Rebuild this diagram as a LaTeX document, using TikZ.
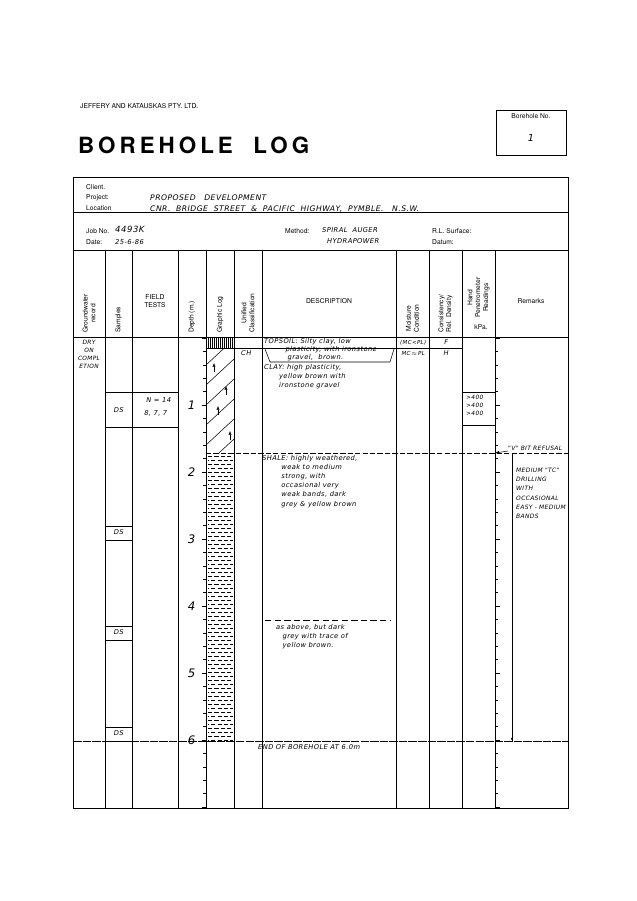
\documentclass[tikz,border=0pt]{standalone}
\usepackage{fontspec}
\setmainfont{TeX Gyre Heros}
\newfontfamily\handfont[LetterSpace=6]{DejaVu Sans}
\usetikzlibrary{arrows.meta}
\newcommand{\hw}{\handfont\itshape\fontsize{6.3}{8.6}\selectfont}
\newcommand{\frm}{\fontsize{6.3}{7.4}\selectfont}
\begin{document}
\begin{tikzpicture}[x=0.033cm,y=-0.033cm,
    frame/.style={line width=0.8pt},
    rule/.style={line width=0.55pt},
    formtext/.style={font=\frm, inner sep=0pt},
    colhead/.style={font=\frm, inner sep=0pt, align=center},
    rothead/.style={font=\frm, inner sep=0pt, align=center, rotate=90, anchor=west},
    hand/.style={font=\hw, inner sep=0pt, align=left, anchor=north west},
    tick/.style={line width=0.5pt}
    ]
\useasboundingbox (0,0) rectangle (637,901);
\fill[white] (0,0) rectangle (637,901);

% title block
\node[formtext, anchor=west] (firm) at (80,106) {JEFFERY AND KATAUSKAS PTY. LTD.};
\node[inner sep=0pt, anchor=west, font=\bfseries\fontsize{21}{21}\selectfont] (title) at (78,145) {\addfontfeature{LetterSpace=18}BOREHOLE\ \ LOG};
\draw[rule] (496,110) rectangle (566,155);
\node[formtext] (bhlabel) at (531,116) {Borehole No.};
\node[font=\hw\fontsize{9}{9}\selectfont] (bhno) at (531,138) {1};

% main frame and header rows
\draw[frame] (73,177) rectangle (568,808);
\draw[rule] (73,212) -- (568,212);
\draw[rule] (73,250) -- (568,250);
\draw[rule] (73,337) -- (568,337);

\node[formtext, anchor=west] (client) at (86,187) {Client.};
\node[formtext, anchor=west] (project) at (86,198) {Project:};
\node[formtext, anchor=west] (location) at (86,208) {Location};
\node[hand, anchor=west, font=\hw\fontsize{7.2}{7.2}\selectfont] (projval) at (150,198) {PROPOSED\ \ \ DEVELOPMENT};
\node[hand, anchor=west, font=\hw\fontsize{7.2}{7.2}\selectfont] (locval) at (150,209) {CNR.\ \ BRIDGE\ \ STREET\ \ \&\ \ PACIFIC\ \ HIGHWAY,\ \ PYMBLE.\ \ \ N.S.W.};
\node[formtext, anchor=west] (jobno) at (86,231) {Job No.};
\node[formtext, anchor=west] (date) at (86,242) {Date:};
\node[hand, anchor=west, font=\hw\fontsize{8}{8}\selectfont] (jobval) at (115,229) {4493K};
\node[hand, anchor=west] (dateval) at (115,242) {25-6-86};
\node[formtext, anchor=west] (method) at (285,231) {Method:};
\node[hand, anchor=west] (methval) at (322,230) {SPIRAL\ \ AUGER};
\node[hand, anchor=west] (methval2) at (327,241) {HYDRAPOWER};
\node[formtext, anchor=west] (rl) at (432,231) {R.L. Surface:};
\node[formtext, anchor=west] (datum) at (432,242) {Datum:};

% columns
\foreach \cx in {105,132,178,206,234,262,396,429,462,495}
  \draw[rule] (\cx,250) -- (\cx,808);

% column headings
\node[rothead] (hgw) at (89,333) {Groundwater\\record};
\node[rothead] (hsamp) at (118.5,333) {Samples};
\node[colhead] (hfield) at (155,301) {FIELD\\TESTS};
\node[rothead] (hdepth) at (192,333) {Depth (m.)};
\node[rothead] (hlog) at (220,333) {Graphic Log};
\node[rothead] (huscs) at (248,333) {Unified\\Classification};
\node[colhead] (hdesc) at (329,301) {DESCRIPTION};
\node[rothead] (hmoist) at (412.5,333) {Moisture\\Condition};
\node[rothead] (hcons) at (445.5,333) {Consistency/\\Rel. Density};
\node[rothead] (hhand) at (478.5,318) {Hand\\Penetrometer\\Readings};
\node[colhead] (hkpa) at (481,327) {kPa.};
\node[colhead] (hrem) at (531,301) {Remarks};

% depth scale
\foreach \d in {0,...,35}
  \draw[tick] ({206-3-1.5*(mod(\d,5)==0)},{338+13.4*\d}) -- (206,{338+13.4*\d});
\foreach \d in {0,...,35}
  \draw[tick] (495,{338+13.4*\d}) -- ({495+3+1.5*(mod(\d,5)==0)},{338+13.4*\d});
\foreach \m in {1,...,6}
  \node[font=\hw\fontsize{11}{11}\selectfont, anchor=east] (depth\m) at (199,{338+67*\m}) {\m};

% strata boundaries
\draw[rule] (206,348) -- (462,348);
\draw[rule, dash pattern=on 5pt off 2pt] (206,453) -- (568,453);
\draw[rule, dash pattern=on 8pt off 1pt] (73,741) -- (568,741);

% graphic log: topsoil
\foreach \i in {0,...,12}
  \draw[line width=0.5pt] ({208+2*\i},338) -- ({208+2*\i},348);
% graphic log: clay
\begin{scope}
  \clip (206,348) rectangle (234,453);
  \foreach \yy in {365,385,...,485}
    \draw[line width=0.5pt] (206,\yy) -- (234,{\yy-26});
\end{scope}
\foreach \ax/\ay in {214/372,226/395,218/415,230/440}
  \draw[line width=0.4pt, -{Latex[length=3.5pt,width=3pt]}] (\ax,\ay) -- (\ax,{\ay-9});
% graphic log: shale
\foreach \r in {0,...,71}
  \draw[line width=0.55pt, dash pattern=on 4pt off 2pt, dash phase={mod(\r,2)*3}] (208,{456+4*\r}) -- (233,{456+4*\r});

% samples
\draw[rule] (105,392) -- (178,392);
\draw[rule] (105,427) -- (178,427);
\node[hand] (ds1) at (118,407) {\makebox[0pt]{DS}};
\node[hand] (spt1) at (158,397) {\makebox[0pt]{N = 14}};
\node[hand] (spt2) at (155,410) {\makebox[0pt]{8,\ 7,\ 7}};
\foreach \sy/\nm in {526/ds2,626/ds3,727/ds4}{
  \draw[rule] (105,\sy) -- (132,\sy);
  \draw[rule] (105,{\sy+14}) -- (132,{\sy+14});
  \node[hand] (\nm) at (118,{\sy+3}) {\makebox[0pt]{DS}};
}
\draw[rule] (462,392) -- (495,392);
\draw[rule] (462,425) -- (495,425);
\node[hand, anchor=north west, font=\hw\fontsize{5.5}{7.5}\selectfont] (hp) at (466,395) {>400\\>400\\>400};

% groundwater
\node[hand, align=center, anchor=north, font=\hw\fontsize{5.5}{7.5}\selectfont] (gw) at (89,340) {DRY\\ON\\COMPL\\ETION};

% descriptions
\node[hand, font=\hw\fontsize{6.3}{7.6}\selectfont] (topsoil) at (264,338) {TOPSOIL: Silty clay, low\\\hspace*{20pt}plasticity, with ironstone\\\hspace*{22pt}gravel,\ \ brown.};
\draw[line width=0.5pt] (265,349) -- (270,362) -- (390,362) -- (394,349);
\node[hand] (uscs) at (241,350) {CH};
\node[hand] (clay) at (264,364) {CLAY: high plasticity,\\\hspace*{14pt}yellow brown with\\\hspace*{14pt}ironstone gravel};
\node[hand] (shale) at (262,455) {SHALE: highly weathered,\\\hspace*{18pt}weak to medium\\\hspace*{18pt}strong, with\\\hspace*{18pt}occasional very\\\hspace*{18pt}weak bands, dark\\\hspace*{18pt}grey \& yellow brown};
\draw[rule, dash pattern=on 6pt off 3pt] (265,620) -- (390,620);
\node[hand] (asabove) at (276,624) {as above, but dark\\\hspace*{6pt}grey with trace of\\\hspace*{6pt}yellow brown.};
\node[hand] (eob) at (258,744) {END OF BOREHOLE AT 6.0m};

% moisture and consistency
\node[hand, font=\hw\fontsize{5.2}{6}\selectfont] (mc1) at (412.5,340) {\makebox[0pt]{(MC<PL)}};
\node[hand, font=\hw\fontsize{5.2}{6}\selectfont] (mc2) at (412.5,351) {\makebox[0pt]{MC\,$\approx$\,PL}};
\node[hand] (cs1) at (445.5,339) {\makebox[0pt]{F}};
\node[hand] (cs2) at (445.5,350) {\makebox[0pt]{H}};

% remarks
\node[hand, anchor=south west, font=\hw\fontsize{5.6}{6}\selectfont] (refusal) at (508,451) {"V" BIT REFUSAL};
\coordinate (refend) at (495,453);
\draw[line width=0.5pt, -{Latex[length=4pt]}] (refusal.south west) -- (refend);
\draw[rule] (512,453) -- (512,741);
\coordinate (tcstart) at (512,456);
\coordinate (tcend) at (512,741);
\draw[line width=0.5pt, -{Latex[length=3pt]}] (tcstart) -- (tcend);
\node[hand, font=\hw\fontsize{5.6}{8.6}\selectfont] (tcnote) at (516,468) {MEDIUM "TC"\\DRILLING\\WITH\\OCCASIONAL\\EASY - MEDIUM\\BANDS};
\end{tikzpicture}
\end{document}
